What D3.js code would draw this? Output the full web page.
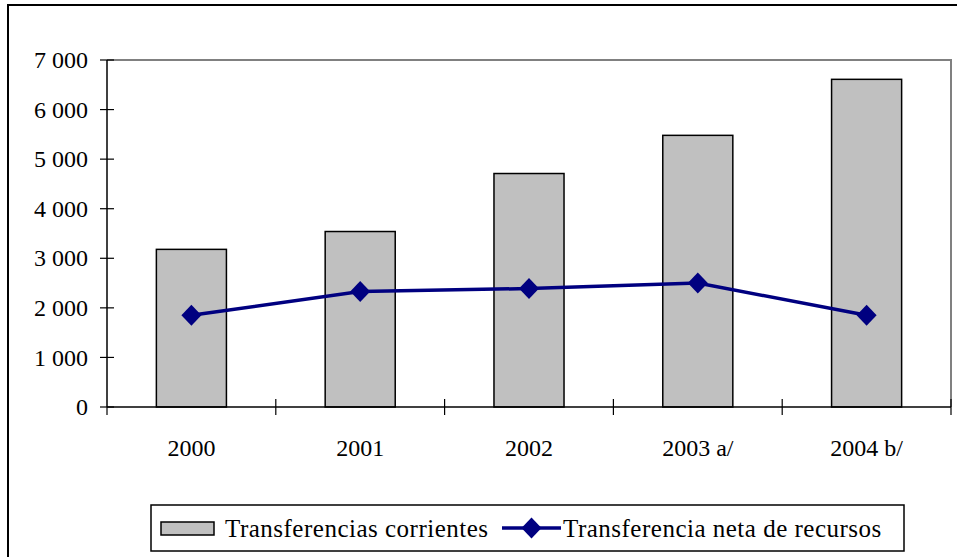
<!DOCTYPE html>
<html>
<head>
<meta charset="utf-8">
<script src="https://cdn.jsdelivr.net/npm/d3@7"></script>
<style>
  svg text { font-family: "Liberation Serif", "Times New Roman", Tinos, FreeSerif !important; }
</style>
</head>
<body style="margin:0">
<script>
// chart data
const years = ["2000", "2001", "2002", "2003 a/", "2004 b/"];
const corrientes = [3180, 3540, 4710, 5480, 6610];
const netaRecursos = [1850, 2330, 2390, 2500, 1850];
const yTicks = [0, 1000, 2000, 3000, 4000, 5000, 6000, 7000];
const seriesNames = ["Transferencias corrientes", "Transferencia neta de recursos"];

const W = 957, H = 557;
const plot = { left: 107, right: 951, top: 60, bottom: 407 };
const fontFam = "Liberation Serif";
const axisFont = 24;
const legendFont = 25;

const svg = d3.select("body").append("svg")
    .attr("width", W)
    .attr("height", H)
    .attr("font-family", fontFam);

// outer frame (cut off on the right and bottom)
svg.append("path")
    .attr("d", "M8," + (H + 5) + "V5H" + (W + 5))
    .attr("fill", "none")
    .attr("stroke", "#000")
    .attr("stroke-width", 2);

var x = d3.scaleBand().domain(years).range([plot.left, plot.right]);
var y = d3.scaleLinear().domain([0, 7000]).range([plot.bottom, plot.top]);

// plot area border (grey top and right)
svg.append("path")
    .attr("d", "M" + plot.left + "," + plot.top + "H" + plot.right + "V" + plot.bottom)
    .attr("fill", "none")
    .attr("stroke", "#808080")
    .attr("stroke-width", 2);

// bars
var barW = x.bandwidth() * 0.415;
svg.selectAll("rect.bar")
    .data(corrientes)
    .enter()
    .append("rect")
    .attr("class", "bar")
    .attr("x", (d, i) => x(years[i]) + x.bandwidth() / 2 - barW / 2)
    .attr("y", d => y(d))
    .attr("width", barW)
    .attr("height", d => y(0) - y(d))
    .attr("fill", "#c0c0c0")
    .attr("stroke", "#000")
    .attr("stroke-width", 1.5);

// y axis with cross ticks
var yg = svg.append("g");
yg.append("line")
    .attr("x1", plot.left).attr("x2", plot.left)
    .attr("y1", y(0)).attr("y2", y(7000))
    .attr("stroke", "#000").attr("stroke-width", 1.5);
yg.selectAll("line.ytick")
    .data(yTicks)
    .enter()
    .append("line")
    .attr("class", "ytick")
    .attr("x1", plot.left - 7).attr("x2", plot.left + 7)
    .attr("y1", d => y(d)).attr("y2", d => y(d))
    .attr("stroke", "#000").attr("stroke-width", 1.2);
yg.selectAll("text.ylab")
    .data(yTicks)
    .enter()
    .append("text")
    .attr("class", "ylab")
    .attr("x", plot.left - 19)
    .attr("y", d => y(d))
    .attr("dy", "0.34em")
    .attr("text-anchor", "end")
    .attr("font-size", axisFont)
    .text(d => d3.format(",")(d).replace(",", " "));

// x axis: ticks at category boundaries
svg.append("line")
    .attr("x1", plot.left).attr("x2", plot.right)
    .attr("y1", y(0)).attr("y2", y(0))
    .attr("stroke", "#000").attr("stroke-width", 1.5);

var bounds = years.map(d => x(d)).concat([plot.right]);
svg.selectAll("line.xtick")
    .data(bounds)
    .enter()
    .append("line")
    .attr("class", "xtick")
    .attr("x1", d => d).attr("x2", d => d)
    .attr("y1", (d, i) => i === 0 ? y(0) : y(0) - 8)
    .attr("y2", y(0) + 8)
    .attr("stroke", "#000").attr("stroke-width", 1.2);

svg.selectAll("text.xlab")
    .data(years)
    .enter()
    .append("text")
    .attr("class", "xlab")
    .attr("x", d => x(d) + x.bandwidth() / 2)
    .attr("y", 456)
    .attr("text-anchor", "middle")
    .attr("font-size", axisFont)
    .text(d => d);

// line series
var line = d3.line()
    .x((d, i) => x(years[i]) + x.bandwidth() / 2)
    .y(d => y(d));

svg.append("path")
    .datum(netaRecursos)
    .attr("d", line)
    .attr("fill", "none")
    .attr("stroke", "#000080")
    .attr("stroke-width", 3.5);

var diamond = "M0,-10.5L10,0L0,10.5L-10,0Z";
svg.selectAll("path.marker")
    .data(netaRecursos)
    .enter()
    .append("path")
    .attr("class", "marker")
    .attr("d", diamond)
    .attr("transform", (d, i) => "translate(" + (x(years[i]) + x.bandwidth() / 2) + "," + y(d) + ")")
    .attr("fill", "#000080");

// legend
var lg = svg.append("g");
lg.append("rect")
    .attr("x", 151).attr("y", 505)
    .attr("width", 753).attr("height", 46)
    .attr("fill", "#fff")
    .attr("stroke", "#000").attr("stroke-width", 1.5);

lg.append("rect")
    .attr("x", 161).attr("y", 522)
    .attr("width", 53).attr("height", 13)
    .attr("fill", "#c0c0c0")
    .attr("stroke", "#000").attr("stroke-width", 1.5);
lg.append("text")
    .attr("x", 225).attr("y", 537)
    .attr("font-size", legendFont)
    .attr("letter-spacing", 0.5)
    .text(seriesNames[0]);

lg.append("line")
    .attr("x1", 502).attr("x2", 561)
    .attr("y1", 528).attr("y2", 528)
    .attr("stroke", "#000080").attr("stroke-width", 3.5);
lg.append("path")
    .attr("d", diamond)
    .attr("transform", "translate(531.5,528)")
    .attr("fill", "#000080");
lg.append("text")
    .attr("x", 563).attr("y", 537)
    .attr("font-size", legendFont)
    .attr("letter-spacing", 0.5)
    .text(seriesNames[1]);
</script>
</body>
</html>
